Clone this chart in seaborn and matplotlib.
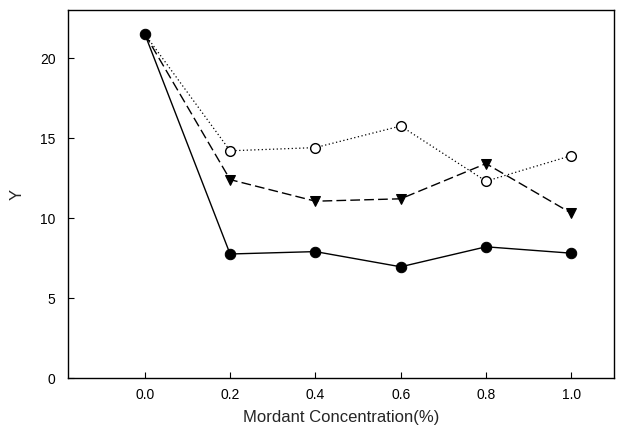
import matplotlib
matplotlib.use("Agg")
import matplotlib.pyplot as plt
import seaborn as sns
import pandas as pd

concentration = [0.0, 0.2, 0.4, 0.6, 0.8, 1.0]
series_solid = [21.5, 7.75, 7.9, 6.95, 8.2, 7.8]
series_dashed = [21.5, 12.4, 11.05, 11.2, 13.4, 10.3]
series_dotted = [21.5, 14.2, 14.4, 15.75, 12.3, 13.9]
xticks = [0.0, 0.2, 0.4, 0.6, 0.8, 1.0]
yticks = [0, 5, 10, 15, 20]

sns.set_style("white")
plt.rcParams['font.family'] = ['Liberation Sans', 'DejaVu Sans']

fig = plt.figure(figsize=(6.21, 4.34), dpi=100)
ax = fig.add_axes([68/621, 1-378/434, (614-68)/621, (378-10)/434])

df_s = pd.DataFrame({"x": concentration, "y": series_solid})
df_d = pd.DataFrame({"x": concentration, "y": series_dashed})
df_o = pd.DataFrame({"x": concentration, "y": series_dotted})

later = list(range(1, len(concentration)))
sns.lineplot(data=df_o, x="x", y="y", ax=ax, color="black", linestyle=(0, (1, 2)),
             linewidth=0.9, marker="o", markersize=7, markerfacecolor="white",
             markeredgecolor="black", markeredgewidth=1.0, markevery=later)
sns.lineplot(data=df_d, x="x", y="y", ax=ax, color="black", linestyle=(0, (7, 3)),
             linewidth=1.0, marker="v", markersize=7.5, markerfacecolor="black",
             markeredgecolor="black", markevery=later)
sns.lineplot(data=df_s, x="x", y="y", ax=ax, color="black", linestyle="-",
             linewidth=1.0, marker="o", markersize=7.5, markerfacecolor="black",
             markeredgecolor="black")

ax.set_xlim(-0.18, 1.1)
ax.set_ylim(0, 23)
ax.set_xticks(xticks)
ax.set_xticklabels([f"{v:.1f}" for v in xticks])
ax.set_yticks(yticks)
ax.set_yticklabels([str(v) for v in yticks])
ax.tick_params(direction="in", length=4, width=0.8, labelsize=10, colors="black",
               pad=9, bottom=True, left=True)
ax.tick_params(axis="x", pad=7)
for sp in ax.spines.values():
    sp.set_color("black")
    sp.set_linewidth(1.0)
ax.set_xlabel("Mordant Concentration(%)", fontsize=12, labelpad=6)
ax.set_ylabel("Y", fontsize=12, labelpad=11)

fig.savefig("out.png", dpi=100)
